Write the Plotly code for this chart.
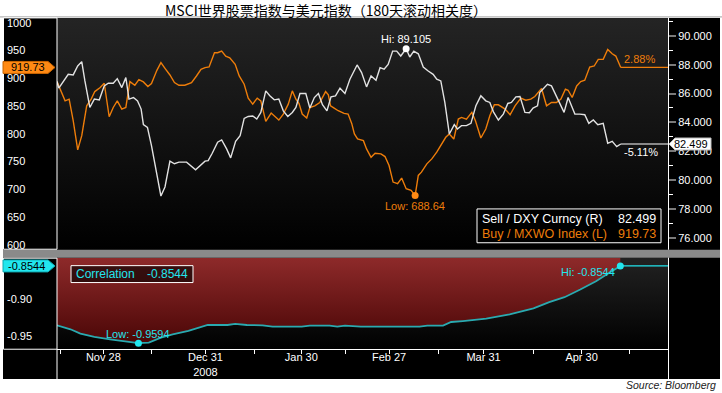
import plotly.graph_objects as go

W, H = 722, 393
def px(x): return x / W
def py(y): return 1 - y / H

FONT = "Liberation Sans, Arial, sans-serif"
CJK = "Noto Sans CJK SC"

# ---------------- data (trading-day index, value) ----------------
dxy_day = [0.0, 0.4, 2.5, 3.6, 4.6, 5.5, 6.2, 7.3, 8.3, 9.4, 10.5, 11.4, 12.5, 13.4, 14.4, 15.3,
           16.0, 17.0, 17.9, 18.7, 19.2, 20.1, 21.0, 22.1, 23.1, 24.0, 25.1, 26.1, 27.1, 28.8,
           30.8, 32.9, 33.6, 34.5, 35.7, 36.6, 37.7, 38.6, 39.7, 40.7, 41.6, 42.5, 43.5, 44.4,
           45.3, 46.4, 47.3, 48.3, 49.3, 50.3, 51.3, 52.3, 53.1, 54.0, 55.3, 56.2, 57.2, 58.1,
           59.0, 60.0, 60.9, 61.9, 62.9, 64.0, 65.1, 66.7, 67.7, 68.8, 69.8, 70.9, 71.8, 72.7,
           73.6, 74.6, 75.5, 76.4, 77.6, 78.4, 79.3, 80.3, 81.4, 82.5, 83.6, 84.4, 85.3, 86.2,
           87.2, 88.3, 89.0, 89.9, 91.0, 92.0, 93.1, 94.2, 95.3, 96.2, 97.0, 98.1, 99.2, 100.2,
           101.0, 102.0, 102.9, 104.0, 105.0, 105.8, 106.8, 107.3, 109.0, 109.9, 111.4, 112.7,
           113.6, 115.1, 116.2, 117.3, 118.2, 119.2, 120.2, 121.4, 122.4, 123.4, 124.4, 125.3]
dxy_val = [86.83, 86.37, 87.33, 87.29, 87.91, 88.21, 86.87, 85.03, 85.61, 85.56, 86.53, 86.71,
           86.71, 87.03, 86.41, 87.10, 85.61, 85.72, 85.49, 84.92, 83.84, 83.65, 82.39, 80.67,
           78.89, 79.52, 81.31, 81.13, 81.24, 81.24, 80.71, 81.31, 81.35, 81.86, 82.62, 82.78,
           82.16, 81.54, 82.69, 83.08, 84.27, 84.41, 84.44, 84.23, 84.69, 86.18, 85.84, 85.56,
           85.61, 84.80, 84.41, 84.69, 85.03, 86.00, 86.00, 84.99, 85.72, 86.00, 85.22, 84.80,
           85.77, 85.84, 86.37, 86.00, 86.99, 87.98, 87.45, 86.46, 87.22, 86.92, 87.79, 87.68,
           88.02, 88.94, 88.94, 88.60, 89.105, 88.53, 88.94, 88.75, 87.84, 87.56, 87.33, 86.99,
           86.87, 85.38, 83.19, 83.84, 83.54, 83.77, 83.77, 83.93, 85.15, 85.84, 85.49, 85.38,
           84.73, 84.16, 84.57, 85.31, 85.38, 85.77, 85.79, 84.69, 84.67, 84.99, 85.15, 86.07,
           86.64, 86.53, 85.49, 84.69, 85.72, 84.57, 84.57, 84.53, 83.93, 84.16, 83.84, 83.93,
           82.55, 82.69, 82.32, 82.499]

mxwo_day = [0.0, 0.7, 1.8, 2.7, 3.6, 4.6, 5.5, 6.6, 7.6, 8.4, 9.6, 10.5, 11.6, 12.5, 13.4, 14.4,
            15.3, 16.2, 17.3, 18.2, 19.2, 20.2, 21.0, 22.2, 23.1, 24.0, 25.1, 26.1, 27.1, 28.4,
            29.9, 31.0, 32.0, 32.9, 33.8, 35.0, 35.7, 36.6, 37.5, 38.4, 39.6, 40.5, 41.6, 42.5,
            43.5, 44.5, 45.3, 46.4, 47.6, 49.3, 50.3, 51.4, 52.3, 53.1, 53.8, 54.5, 55.5, 56.2,
            57.3, 58.4, 59.7, 60.3, 60.8, 61.6, 62.5, 63.8, 64.7, 65.5, 66.1, 66.8, 68.1, 68.8,
            69.8, 70.7, 72.0, 72.9, 73.8, 74.7, 75.7, 76.6, 77.6, 78.7, 79.6, 80.3, 81.0, 82.2,
            83.3, 84.4, 85.3, 86.4, 87.2, 88.2, 89.2, 89.9, 91.0, 92.2, 93.0, 94.2, 95.3, 96.2,
            97.2, 98.1, 99.6, 100.7, 101.8, 103.1, 104.2, 105.3, 106.2, 107.7, 108.8, 109.9,
            111.0, 112.0, 113.0, 113.6, 114.5, 115.5, 116.4, 117.3, 118.4, 119.4, 120.3, 121.4,
            122.4, 123.4, 124.2, 125.3]
mxwo_val = [894.2, 880.4, 859.5, 862.5, 823.6, 771.0, 796.7, 850.5, 862.5, 876.2, 883.4, 891.2,
            830.8, 847.5, 859.5, 844.5, 847.5, 894.2, 887.6, 897.8, 893.6, 885.2, 890.6, 914.5,
            928.3, 918.1, 906.1, 892.4, 887.6, 887.6, 892.4, 904.3, 916.3, 919.3, 920.5, 946.2,
            946.2, 949.2, 940.2, 937.2, 925.3, 904.3, 889.4, 864.3, 853.5, 864.3, 859.5, 822.4,
            837.4, 824.8, 835.6, 853.5, 877.4, 862.5, 854.7, 835.6, 828.4, 847.5, 850.5, 856.5,
            876.2, 870.3, 850.5, 846.3, 841.6, 836.8, 835.6, 818.8, 799.7, 790.7, 787.7, 772.8,
            757.8, 765.0, 763.8, 759.0, 742.9, 713.0, 710.0, 720.2, 701.0, 698.0, 688.64, 725.0,
            730.9, 745.9, 754.8, 766.8, 778.8, 793.7, 799.7, 790.7, 826.6, 829.6, 826.6, 838.6,
            823.6, 792.5, 808.7, 832.6, 852.3, 852.3, 844.5, 834.4, 850.5, 864.3, 860.7, 862.5,
            867.3, 881.6, 850.5, 856.5, 856.5, 862.5, 880.4, 878.6, 865.5, 886.4, 894.2, 896.6,
            920.5, 922.3, 934.3, 934.3, 952.2, 944.4, 940.2, 919.73]

corr_day = [0.0, 3.0, 5.2, 8.3, 11.8, 15.2, 18.1, 20.4, 23.1, 25.7, 29.2, 33.5, 37.9, 39.6, 42.2,
            45.7, 47.9, 54.4, 56.2, 60.6, 62.3, 64.0, 67.5, 80.6, 82.3, 85.8, 87.6, 90.2, 95.4,
            100.6, 105.9, 109.4, 112.8, 116.3, 119.8, 122.4, 125.2]
corr_val = [-0.9351, -0.9405, -0.9464, -0.9509, -0.9541, -0.9572, -0.9594, -0.9586, -0.9518,
            -0.9473, -0.9428, -0.9347, -0.9347, -0.9333, -0.9347, -0.9351, -0.9369, -0.9369,
            -0.9356, -0.9356, -0.9369, -0.9356, -0.9369, -0.9369, -0.9356, -0.9356, -0.9306,
            -0.9293, -0.9261, -0.9203, -0.9122, -0.9036, -0.8969, -0.8865, -0.8753, -0.8649,
            -0.8544]

mxwo_chg = "2.88%"
dxy_chg = "-5.11%"

x_tick_pos = [10.3, 33.0, 54.3, 73.8, 94.8, 116.6]
x_tick_text = ["Nov 28", "Dec 31<br>2008", "Jan 30", "Feb 27", "Mar 31", "Apr 30"]
x_minor_pos = [0.7, 21.1, 43.8, 64.2, 84.9, 105.8, 127.3]

XMAX = 135.8
Y1 = [591, 1009]
Y2 = [75.17, 91.24]
Y4 = [-0.9676, -0.8432]

ORANGE = "#ee7d0a"
WHITE_LINE = "#e2e2e2"
CYAN = "#22e6ee"
TEAL = "#2aaab0"

fig = go.Figure()

# panel backgrounds (vertical gradients)
fig.add_trace(go.Scatter(x=[0, XMAX, XMAX, 0], y=[Y1[1], Y1[1], Y1[0], Y1[0]], fill="toself",
                         mode="lines", line=dict(width=0),
                         fillgradient=dict(type="vertical", colorscale=[[0, "#000000"], [1, "#242424"]],
                                           start=Y1[0], stop=Y1[1]),
                         hoverinfo="skip", showlegend=False, xaxis="x", yaxis="y"))
fig.add_trace(go.Scatter(x=[0, XMAX, XMAX, 0], y=[Y4[1], Y4[1], Y4[0], Y4[0]], fill="toself",
                         mode="lines", line=dict(width=0),
                         fillgradient=dict(type="vertical", colorscale=[[0, "#000000"], [1, "#222222"]],
                                           start=Y4[0], stop=Y4[1]),
                         hoverinfo="skip", showlegend=False, xaxis="x2", yaxis="y4"))

# MXWO (left axis)
fig.add_trace(go.Scatter(x=mxwo_day, y=mxwo_val, mode="lines", line=dict(color=ORANGE, width=1.4),
                         showlegend=False, xaxis="x", yaxis="y"))
fig.add_trace(go.Scatter(x=[mxwo_day[-1], XMAX], y=[mxwo_val[-1], mxwo_val[-1]], mode="lines",
                         line=dict(color=ORANGE, width=1.2), showlegend=False, xaxis="x", yaxis="y"))
i_lo = mxwo_val.index(min(mxwo_val))
fig.add_trace(go.Scatter(x=[mxwo_day[i_lo]], y=[mxwo_val[i_lo]], mode="markers",
                         marker=dict(color="#ff8a14", size=7), showlegend=False, xaxis="x", yaxis="y"))

# DXY (right axis)
fig.add_trace(go.Scatter(x=dxy_day, y=dxy_val, mode="lines", line=dict(color=WHITE_LINE, width=1.4),
                         showlegend=False, xaxis="x", yaxis="y2"))
fig.add_trace(go.Scatter(x=[dxy_day[-1], XMAX], y=[dxy_val[-1], dxy_val[-1]], mode="lines",
                         line=dict(color="#ffffff", width=1.2), showlegend=False, xaxis="x", yaxis="y2"))
i_hi = dxy_val.index(max(dxy_val))
fig.add_trace(go.Scatter(x=[dxy_day[i_hi]], y=[dxy_val[i_hi]], mode="markers",
                         marker=dict(color="#ffffff", size=7), showlegend=False, xaxis="x", yaxis="y2"))

# Correlation panel: red fill above the curve
fig.add_trace(go.Scatter(x=corr_day, y=corr_val, mode="lines", line=dict(width=0),
                         hoverinfo="skip", showlegend=False, xaxis="x2", yaxis="y4"))
fig.add_trace(go.Scatter(x=corr_day, y=[Y4[1]] * len(corr_day), mode="lines", line=dict(width=0),
                         fill="tonexty",
                         fillgradient=dict(type="vertical", colorscale=[[0, "#4a0606"], [1, "#8e2a2a"]],
                                           start=-0.96, stop=Y4[1]),
                         hoverinfo="skip", showlegend=False, xaxis="x2", yaxis="y4"))
fig.add_trace(go.Scatter(x=corr_day, y=corr_val, mode="lines", line=dict(color=TEAL, width=1.8),
                         showlegend=False, xaxis="x2", yaxis="y4"))
fig.add_trace(go.Scatter(x=[corr_day[-1], XMAX], y=[corr_val[-1], corr_val[-1]], mode="lines",
                         line=dict(color=CYAN, width=1.3), showlegend=False, xaxis="x2", yaxis="y4"))
c_lo = corr_val.index(min(corr_val))
c_hi = corr_val.index(max(corr_val))
fig.add_trace(go.Scatter(x=[corr_day[c_lo], corr_day[c_hi]], y=[corr_val[c_lo], corr_val[c_hi]],
                         mode="markers", marker=dict(color=CYAN, size=7), showlegend=False,
                         xaxis="x2", yaxis="y4"))

top_dom = [py(250), py(17)]
bot_dom = [py(350), py(258)]
xdom = [px(57), px(668)]
tickfont = dict(family=FONT, size=11, color="white")

fig.update_layout(
    width=W, height=H, margin=dict(l=0, r=0, t=0, b=0),
    paper_bgcolor="white", plot_bgcolor="rgba(0,0,0,0)", showlegend=False,
    xaxis=dict(domain=xdom, range=[0, XMAX], anchor="y", showticklabels=False, ticks="",
               showgrid=False, zeroline=False, showline=False, fixedrange=True),
    yaxis=dict(domain=top_dom, range=Y1, anchor="free", position=px(3), side="left",
               tickmode="array", tickvals=[600, 650, 700, 750, 800, 850, 900, 950, 1000],
               ticklabelposition="inside", ticklabeloverflow="allow", ticks="", tickfont=tickfont,
               showgrid=False, zeroline=False, showline=False, fixedrange=True),
    yaxis3=dict(overlaying="y", range=Y1, anchor="x", side="left", showticklabels=False,
                tickmode="linear", tick0=600, dtick=50, ticks="outside", ticklen=8, tickwidth=2,
                tickcolor="#7a7a7a",
                minor=dict(tick0=600, dtick=25, ticks="outside", ticklen=4, tickwidth=1, tickcolor="white"),
                showgrid=False, zeroline=False, showline=False, fixedrange=True),
    yaxis2=dict(overlaying="y", range=Y2, anchor="x", side="right",
                tickmode="linear", tick0=76, dtick=2, tickformat=".3f", tickfont=tickfont,
                ticks="outside", ticklen=7, tickwidth=2, tickcolor="#7a7a7a",
                minor=dict(tick0=76, dtick=1, ticks="outside", ticklen=4, tickwidth=1, tickcolor="white"),
                showgrid=False, zeroline=False, showline=False, fixedrange=True),
    xaxis2=dict(domain=xdom, range=[0, XMAX], anchor="y4", tickmode="array", tickvals=x_tick_pos,
                ticktext=x_tick_text, ticks="outside", ticklen=4, tickcolor="white", tickfont=tickfont,
                ticklabelstandoff=-6,
                minor=dict(tickmode="array", tickvals=x_minor_pos, ticks="outside", ticklen=4,
                           tickcolor="white", tickwidth=1),
                showline=True, linecolor="white", linewidth=1,
                showgrid=False, zeroline=False, fixedrange=True),
    yaxis4=dict(domain=bot_dom, range=Y4, anchor="free", position=px(3), side="left",
                tickmode="array", tickvals=[-0.95, -0.90], ticktext=["-0.95", "-0.90"],
                ticklabelposition="inside", ticklabeloverflow="allow", ticks="", tickfont=tickfont,
                showgrid=False, zeroline=False, showline=False, fixedrange=True),
    yaxis5=dict(overlaying="y4", range=Y4, anchor="x2", side="left", showticklabels=False,
                tickmode="linear", tick0=-0.95, dtick=0.05, ticks="outside", ticklen=8, tickwidth=2,
                tickcolor="#7a7a7a",
                minor=dict(tick0=-0.95, dtick=0.025, ticks="outside", ticklen=4, tickwidth=1, tickcolor="white"),
                showgrid=False, zeroline=False, showline=False, fixedrange=True),
)

shapes = [
    # black chart body
    dict(type="rect", xref="paper", yref="paper", x0=px(3), x1=px(720), y0=py(380), y1=py(17),
         fillcolor="black", line=dict(width=0), layer="below"),
    # title underline
    dict(type="line", xref="paper", yref="paper", x0=0, x1=1, y0=py(16), y1=py(16),
         line=dict(color="#a0a0a0", width=1), layer="below"),
    # grey separator bar
    dict(type="rect", xref="paper", yref="paper", x0=px(3), x1=px(720), y0=py(258), y1=py(250),
         fillcolor="#8a8a8a", line=dict(width=0)),
    # left axis boxes
    dict(type="rect", xref="paper", yref="paper", x0=px(3.5), x1=px(57), y0=py(249.5), y1=py(17),
         line=dict(color="white", width=1)),
    dict(type="rect", xref="paper", yref="paper", x0=px(3.5), x1=px(57), y0=py(350), y1=py(258.5),
         line=dict(color="white", width=1)),
    dict(type="line", xref="paper", yref="paper", x0=px(57), x1=px(57), y0=py(380), y1=py(350),
         line=dict(color="white", width=1)),
    # right separators
    dict(type="line", xref="paper", yref="paper", x0=px(668.5), x1=px(668.5), y0=py(250), y1=py(17),
         line=dict(color="white", width=1)),
    dict(type="line", xref="paper", yref="paper", x0=px(668.5), x1=px(668.5), y0=py(380), y1=py(258),
         line=dict(color="white", width=1)),
    # value tags
    dict(type="path", xref="paper", xsizemode="pixel", xanchor=px(3), yref="y", ysizemode="pixel",
         yanchor=mxwo_val[-1], path="M0,-6 L45,-6 L52,0 L45,6 L0,6 Z",
         fillcolor="#ff8a14", line=dict(color="#c86400", width=1)),
    dict(type="path", xref="paper", xsizemode="pixel", xanchor=px(669), yref="y2", ysizemode="pixel",
         yanchor=dxy_val[-1], path="M0,0 L6,-6 L42,-6 L42,6 L6,6 Z",
         fillcolor="white", line=dict(color="#bbbbbb", width=1)),
    dict(type="path", xref="paper", xsizemode="pixel", xanchor=px(3), yref="y4", ysizemode="pixel",
         yanchor=corr_val[-1], path="M0,-6 L45,-6 L52,0 L45,6 L0,6 Z",
         fillcolor=CYAN, line=dict(color="#10a8b0", width=1)),
    # legend boxes
    dict(type="rect", xref="paper", yref="paper", x0=px(477), x1=px(661), y0=py(243), y1=py(209),
         fillcolor="black", line=dict(color="white", width=1)),
    dict(type="rect", xref="paper", yref="paper", x0=px(71), x1=px(193), y0=py(283), y1=py(266),
         fillcolor="rgba(0,0,0,0.6)", line=dict(color="white", width=1)),
]
fig.update_layout(shapes=shapes)

def ann(text, x, y, xref="paper", yref="paper", xanchor="center", yanchor="middle",
        color="white", size=11, family=FONT, xshift=0, yshift=0):
    return dict(text=text, x=x, y=y, xref=xref, yref=yref, xanchor=xanchor, yanchor=yanchor,
                showarrow=False, font=dict(color=color, size=size, family=family),
                xshift=xshift, yshift=yshift)

annotations = [
    ann("MSCI世界股票指数与美元指数（180天滚动相关度）", px(326), py(9), color="black", size=14, family=CJK),
    ann("<i>Source: Bloomberg</i>", px(718), py(386), xanchor="right", color="#222222", size=10.5),
    # hi / low labels
    ann(f"Hi: {dxy_val[i_hi]:.3f}", dxy_day[i_hi], dxy_val[i_hi], xref="x", yref="y2",
        yanchor="bottom", yshift=2),
    ann(f"Low: {mxwo_val[i_lo]:.2f}", mxwo_day[i_lo], mxwo_val[i_lo], xref="x", yref="y",
        yanchor="top", yshift=-2, color=ORANGE),
    ann(mxwo_chg, mxwo_day[-1], mxwo_val[-1], xref="x", yref="y", xanchor="left",
        yanchor="bottom", xshift=1, color=ORANGE),
    ann(dxy_chg, dxy_day[-1], dxy_val[-1], xref="x", yref="y2", xanchor="left",
        yanchor="top", xshift=1),
    ann(f"Low: {corr_val[c_lo]:.4f}", corr_day[c_lo], corr_val[c_lo], xref="x2", yref="y4",
        yanchor="bottom", yshift=1, color=CYAN),
    ann(f"Hi: {corr_val[c_hi]:.4f}", corr_day[c_hi], corr_val[c_hi], xref="x2", yref="y4",
        xanchor="right", yanchor="middle", xshift=-3, yshift=-6, color=CYAN),
    # tag texts
    ann(f"{mxwo_val[-1]:.2f}", px(47), mxwo_val[-1], yref="y", xanchor="right", color="black"),
    ann(f"{dxy_val[-1]:.3f}", px(710), dxy_val[-1], yref="y2", xanchor="right", color="black"),
    ann(f"{corr_val[-1]:.4f}", px(47), corr_val[-1], yref="y4", xanchor="right", color="black"),
    # legend texts
    ann("Sell / DXY Curncy (R)", px(480), py(219), xanchor="left", size=12.5),
    ann(f"{dxy_val[-1]:.3f}", px(658), py(219), xanchor="right", size=12.5),
    ann("Buy / MXWO Index (L)", px(480), py(234), xanchor="left", size=12.5, color=ORANGE),
    ann(f"{mxwo_val[-1]:.2f}", px(658), py(234), xanchor="right", size=12.5, color=ORANGE),
    ann("Correlation", px(74), py(274.5), xanchor="left", size=12, color=CYAN),
    ann(f"{corr_val[-1]:.4f}", px(190), py(274.5), xanchor="right", size=12, color=CYAN),
]
fig.update_layout(annotations=annotations)

fig.write_html("out.html", config={"displayModeBar": False},
               post_script="document.body.style.margin='0';document.body.style.overflow='hidden';")
